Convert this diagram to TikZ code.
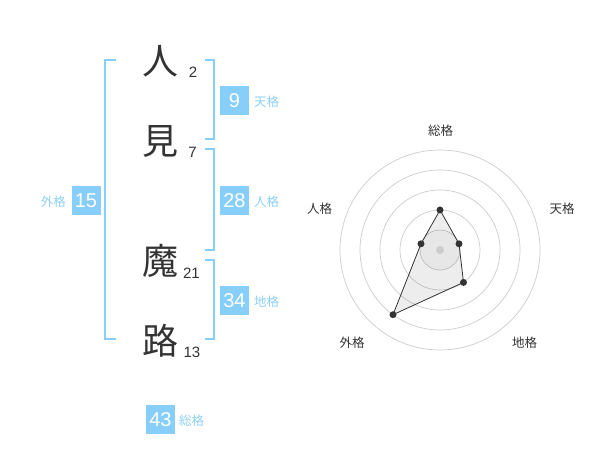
\documentclass[tikz,border=0pt]{standalone}
\usepackage{fontspec}
\setmainfont{Liberation Sans}
\newfontfamily\cjk{Noto Sans CJK JP}
\definecolor{sky}{HTML}{87CEFA}
\definecolor{skytxt}{HTML}{8DD0F8}
\definecolor{ink}{HTML}{333333}
\definecolor{ring}{HTML}{CCCCCC}
\begin{document}
\begin{tikzpicture}[x=1pt,y=-1pt,
  kanji/.style={font=\cjk\fontsize{36}{36}\selectfont, text=ink, inner sep=0pt},
  stroke/.style={font=\fontsize{15}{15}\selectfont, text=ink, inner sep=0pt},
  numbox/.style={fill=sky, text=white, minimum width=29pt, minimum height=29pt, inner sep=0pt, font=\fontsize{20}{20}\selectfont},
  kakulbl/.style={font=\cjk\fontsize{12.5}{12.5}\selectfont, text=skytxt, inner sep=0pt},
  radlbl/.style={font=\cjk\fontsize{12.5}{12.5}\selectfont, text=ink, inner sep=0pt},
  brk/.style={draw=sky, line width=1.5pt},
  dot/.style={circle, fill=ink, inner sep=0pt, minimum size=7pt}]
\useasboundingbox (0,0) rectangle (600,470);
% characters
\node[kanji] (k1) at (160,61) {人};
\node[kanji] (k2) at (160,141) {見};
\node[kanji] (k3) at (160,261) {魔};
\node[kanji] (k4) at (160,341) {路};
\node[stroke] (s1) at (193,72.5) {2};
\node[stroke] (s2) at (192.5,152.5) {7};
\node[stroke] (s3) at (191.5,273) {21};
\node[stroke] (s4) at (192,352.5) {13};
% brackets
\coordinate (lt) at (116,60); \coordinate (lb) at (116,339);
\draw[brk] (lt) -- (105,60) -- (105,339) -- (lb);
\coordinate (r1t) at (205,60); \coordinate (r1b) at (205,139);
\draw[brk] (r1t) -- (214,60) -- (214,139) -- (r1b);
\coordinate (r2t) at (205,149); \coordinate (r2b) at (205,250);
\draw[brk] (r2t) -- (214,149) -- (214,250) -- (r2b);
\coordinate (r3t) at (205,260); \coordinate (r3b) at (205,339);
\draw[brk] (r3t) -- (214,260) -- (214,339) -- (r3b);
% boxes
\node[numbox] (ten) at (234.5,100.5) {9};
\node[kakulbl, anchor=west] (tenl) at (254,102) {天格};
\node[numbox] (jin) at (234.5,200.5) {28};
\node[kakulbl, anchor=west] (jinl) at (254,202) {人格};
\node[numbox] (chi) at (234.5,300.5) {34};
\node[kakulbl, anchor=west] (chil) at (254,302) {地格};
\node[numbox] (gai) at (86,200.5) {15};
\node[kakulbl, anchor=east] (gail) at (66,202) {外格};
\node[numbox] (sou) at (160.5,419.5) {43};
\node[kakulbl, anchor=west] (soul) at (179,421) {総格};
% radar
\coordinate (c) at (440,250);
\foreach \r in {20,40,60,80,100} \draw[ring, line width=0.7pt] (c) circle[radius=\r];
\coordinate (p1) at (440,210);
\coordinate (p2) at (459.0,243.8);
\coordinate (p3) at (463.5,282.4);
\coordinate (p4) at (393.0,314.7);
\coordinate (p5) at (421.0,243.8);
\fill[black, opacity=0.07] (p1) -- (p2) -- (p3) -- (p4) -- (p5) -- cycle;
\fill[black, opacity=0.025] (c) circle[radius=20];
\draw[ink, line width=0.8pt] (p1) -- (p2) -- (p3) -- (p4) -- (p5) -- cycle;
\node[circle, fill=ring, inner sep=0pt, minimum size=8pt] (cd) at (c) {};
\foreach \p in {p1,p2,p3,p4,p5} \node[dot] at (\p) {};
\node[radlbl] (a1) at (440.5,131) {総格};
\node[radlbl] (a2) at (562,209) {天格};
\node[radlbl] (a3) at (524.5,343) {地格};
\node[radlbl] (a4) at (352,343) {外格};
\node[radlbl] (a5) at (319.5,209) {人格};
\end{tikzpicture}
\end{document}
